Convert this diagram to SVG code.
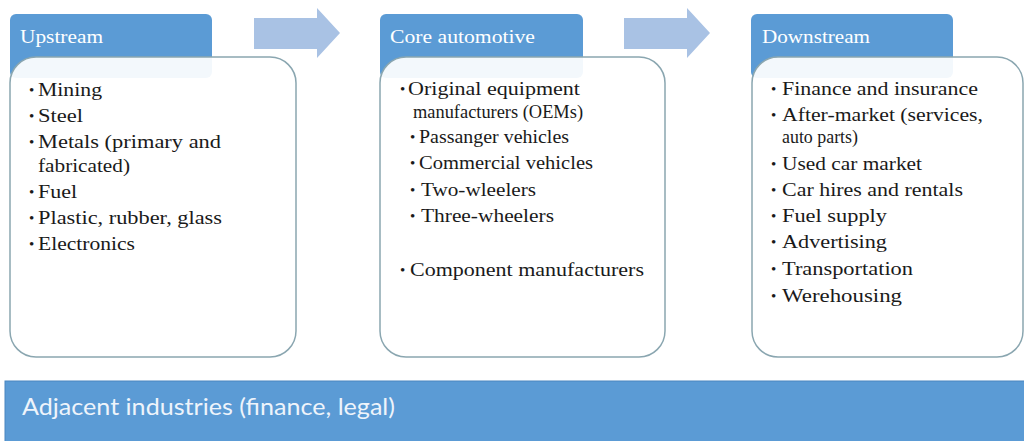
<svg xmlns="http://www.w3.org/2000/svg" width="1024" height="441" viewBox="0 0 1024 441">
<style>
.hdr{fill:#5b9bd5;}
.box{fill:#ffffff;fill-opacity:0.93;stroke:#8aa6b0;stroke-width:1.5;}
.ht{font-family:"Liberation Serif",serif;font-size:18px;fill:#ffffff;}
.bt{font-family:"Liberation Serif",serif;font-size:19px;fill:#1a1a1a;}
.bl{font-family:"Liberation Serif",serif;font-size:15px;fill:#1a1a1a;}
.arr{fill:#a9c2e4;}
.bar{fill:#5b9bd5;stroke:#4a86c0;stroke-width:1;}
.bart{font-family:Lato,"Liberation Sans",sans-serif;font-size:24px;fill:#eef4fb;}
</style>
<g id="connectors">
<path class="arr" d="M254,18 H317 V8 L340,33 L317,58 V49 H254 Z"/>
<path class="arr" d="M624,18 H687 V8 L710,33 L687,58 V49 H624 Z"/>
</g>
<g id="upstream">
<rect class="hdr" x="10" y="14" width="202" height="64" rx="6"/>
<text class="ht" x="20" y="43" textLength="83" lengthAdjust="spacingAndGlyphs">Upstream</text>
<rect class="box" x="10" y="57" width="286" height="300" rx="26"/>
<text class="bl" x="29" y="95">•</text><text class="bt" x="38" y="96" textLength="64" lengthAdjust="spacingAndGlyphs">Mining</text>
<text class="bl" x="29" y="121">•</text><text class="bt" x="38" y="122" textLength="45" lengthAdjust="spacingAndGlyphs">Steel</text>
<text class="bl" x="29" y="147">•</text><text class="bt" x="38" y="148" textLength="183" lengthAdjust="spacingAndGlyphs">Metals (primary  and</text>
<text class="bt" x="38" y="172" textLength="92" lengthAdjust="spacingAndGlyphs">fabricated)</text>
<text class="bl" x="29" y="197">•</text><text class="bt" x="38" y="198" textLength="39" lengthAdjust="spacingAndGlyphs">Fuel</text>
<text class="bl" x="29" y="223">•</text><text class="bt" x="38" y="224" textLength="184" lengthAdjust="spacingAndGlyphs">Plastic, rubber, glass</text>
<text class="bl" x="29" y="249">•</text><text class="bt" x="38" y="250" textLength="97" lengthAdjust="spacingAndGlyphs">Electronics</text>
</g>
<g id="core">
<rect class="hdr" x="380" y="14" width="203" height="64" rx="6"/>
<text class="ht" x="390" y="43" textLength="145" lengthAdjust="spacingAndGlyphs">Core automotive</text>
<rect class="box" x="380" y="57" width="285" height="300" rx="26"/>
<text class="bl" x="400" y="94">•</text><text class="bt" x="408" y="95" textLength="172" lengthAdjust="spacingAndGlyphs">Original  equipment</text>
<text class="bt" x="413" y="118" textLength="170" lengthAdjust="spacingAndGlyphs">manufacturers (OEMs)</text>
<text class="bl" x="410" y="142">•</text><text class="bt" x="419" y="143" textLength="150" lengthAdjust="spacingAndGlyphs">Passanger vehicles</text>
<text class="bl" x="410" y="168">•</text><text class="bt" x="419" y="169" textLength="174" lengthAdjust="spacingAndGlyphs">Commercial   vehicles</text>
<text class="bl" x="410" y="195">•</text><text class="bt" x="421" y="196" textLength="115" lengthAdjust="spacingAndGlyphs">Two-wleelers</text>
<text class="bl" x="410" y="221">•</text><text class="bt" x="421" y="222" textLength="133" lengthAdjust="spacingAndGlyphs">Three-wheelers</text>
<text class="bl" x="400" y="275">•</text><text class="bt" x="410" y="276" textLength="234" lengthAdjust="spacingAndGlyphs">Component manufacturers</text>
</g>
<g id="downstream">
<rect class="hdr" x="751" y="14" width="202" height="64" rx="6"/>
<text class="ht" x="762" y="43" textLength="108" lengthAdjust="spacingAndGlyphs">Downstream</text>
<rect class="box" x="752" y="57" width="271" height="300" rx="26"/>
<text class="bl" x="771" y="94">•</text><text class="bt" x="782" y="95" textLength="196" lengthAdjust="spacingAndGlyphs">Finance  and insurance</text>
<text class="bl" x="771" y="120">•</text><text class="bt" x="782" y="121" textLength="201" lengthAdjust="spacingAndGlyphs">After-market  (services,</text>
<text class="bt" x="782" y="143" textLength="76" lengthAdjust="spacingAndGlyphs">auto parts)</text>
<text class="bl" x="771" y="169">•</text><text class="bt" x="782" y="170" textLength="140" lengthAdjust="spacingAndGlyphs">Used car market</text>
<text class="bl" x="771" y="195">•</text><text class="bt" x="782" y="196" textLength="181" lengthAdjust="spacingAndGlyphs">Car hires and rentals</text>
<text class="bl" x="771" y="221">•</text><text class="bt" x="782" y="222" textLength="105" lengthAdjust="spacingAndGlyphs">Fuel supply</text>
<text class="bl" x="771" y="247">•</text><text class="bt" x="782" y="248" textLength="105" lengthAdjust="spacingAndGlyphs">Advertising</text>
<text class="bl" x="771" y="274">•</text><text class="bt" x="782" y="275" textLength="131" lengthAdjust="spacingAndGlyphs">Transportation</text>
<text class="bl" x="771" y="301">•</text><text class="bt" x="782" y="302" textLength="120" lengthAdjust="spacingAndGlyphs">Werehousing</text>
</g>
<g id="adjacent">
<rect class="bar" x="5" y="381" width="1020" height="61"/>
<text class="bart" x="22" y="415" textLength="373" lengthAdjust="spacingAndGlyphs">Adjacent industries (finance, legal)</text>
</g>
</svg>
